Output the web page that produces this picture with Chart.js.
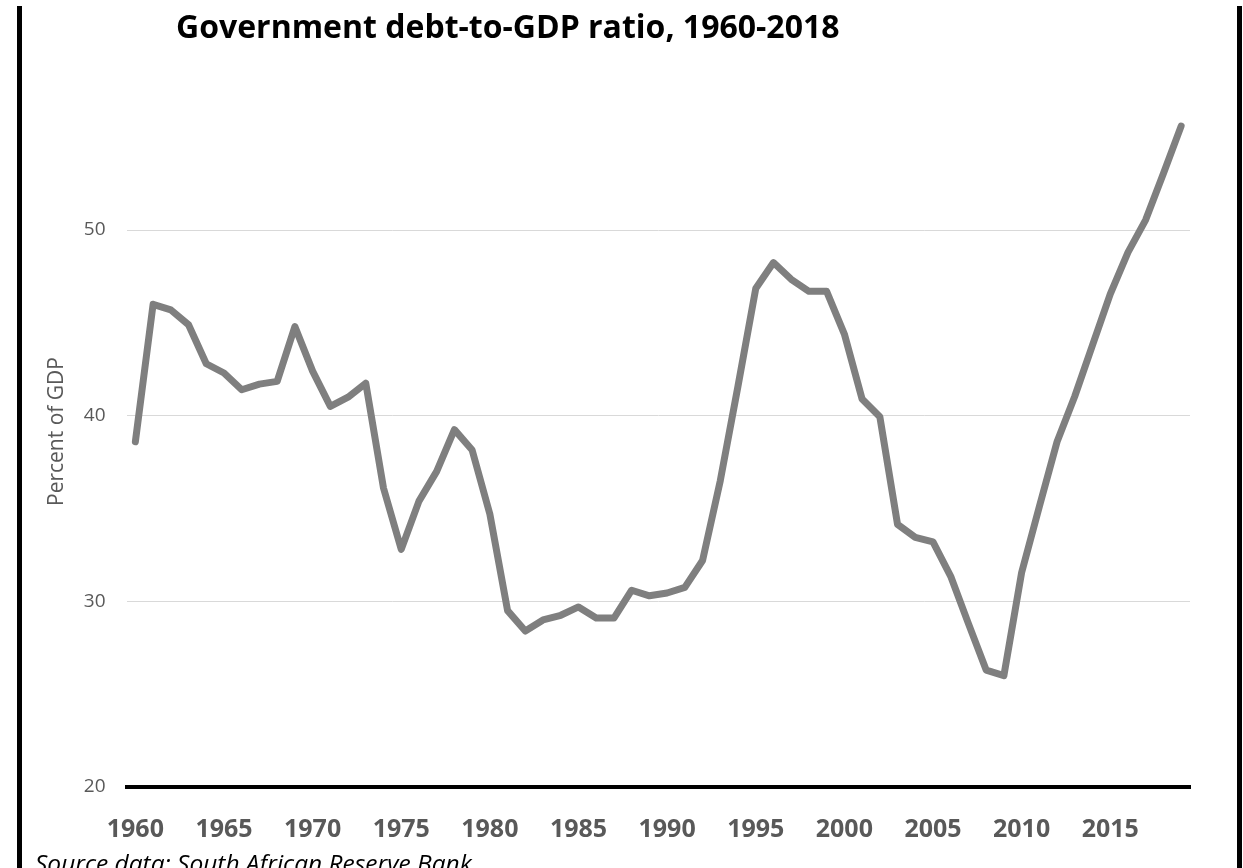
<!DOCTYPE html>
<html>
<head>
<meta charset="utf-8">
<script src="https://cdn.jsdelivr.net/npm/chart.js@4"></script>
<style>
  html, body { margin: 0; padding: 0; background: #fff; overflow: hidden; }
  #wrap { position: absolute; left: 0; top: 0; width: 1243px; height: 868px; }
  .edge { position: absolute; top: 6px; bottom: 0; width: 5px; background: #000; }
  #title {
    position: absolute; left: 176px; top: 10px;
    font: bold 32px "Open Sans", sans-serif; line-height: 32px;
    color: #000; white-space: nowrap;
  }
  #source {
    position: absolute; left: 35px; top: 851px;
    font: italic 24.5px "Open Sans", sans-serif; line-height: 24.5px;
    color: #000; white-space: nowrap;
  }
</style>
</head>
<body>
<div id="wrap">
  <canvas id="debtChart"></canvas>
</div>
<div class="edge" style="left:17px"></div>
<div class="edge" style="left:1237px"></div>
<div id="title">Government debt-to-GDP ratio, 1960-2018</div>
<div id="source">Source data: South African Reserve Bank</div>

<script>
  // years on the category axis
  const years = [
    1960, 1961, 1962, 1963, 1964, 1965, 1966, 1967, 1968, 1969,
    1970, 1971, 1972, 1973, 1974, 1975, 1976, 1977, 1978, 1979,
    1980, 1981, 1982, 1983, 1984, 1985, 1986, 1987, 1988, 1989,
    1990, 1991, 1992, 1993, 1994, 1995, 1996, 1997, 1998, 1999,
    2000, 2001, 2002, 2003, 2004, 2005, 2006, 2007, 2008, 2009,
    2010, 2011, 2012, 2013, 2014, 2015, 2016, 2017, 2018, 2019
  ];

  // debt as percent of GDP
  const debtRatio = [
    38.6, 46.0, 45.7, 44.9, 42.8, 42.3, 41.4, 41.7, 41.85, 44.8,
    42.4, 40.5, 41.0, 41.75, 36.1, 32.8, 35.4, 37.0, 39.25, 38.15,
    34.7, 29.5, 28.4, 29.0, 29.25, 29.7, 29.1, 29.1, 30.6, 30.3,
    30.45, 30.75, 32.2, 36.5, 41.6, 46.85, 48.25, 47.35, 46.7, 46.7,
    44.4, 40.9, 39.95, 34.15, 33.45, 33.2, 31.35, 28.8, 26.3, 26.0,
    31.55, 35.1, 38.6, 41.05, 43.8, 46.55, 48.8, 50.55, 53.05, 55.6
  ];

  // labelled years on the x axis
  const xTickYears = [1960, 1965, 1970, 1975, 1980, 1985, 1990, 1995, 2000, 2005, 2010, 2015];

  // y axis ticks
  const yTickValues = [20, 30, 40, 50];

  const grey = '#595959';

  window.onload = function () {

    let ctx = document.getElementById('debtChart').getContext('2d');

    new Chart(ctx, {
      type: 'line',
      data: {
        labels: years,
        datasets: [{
          data: debtRatio,
          borderColor: '#7f7f7f',
          borderWidth: 7,
          borderCapStyle: 'round',
          borderJoinStyle: 'round',
          pointRadius: 0,
          pointHoverRadius: 0,
          tension: 0,
          fill: false,
        }],
      },
      options: {
        responsive: true,
        maintainAspectRatio: false,
        animation: false,
        layout: {
          padding: { top: 76, right: 53, bottom: 0, left: 0 }
        },
        plugins: {
          legend: { display: false },
          tooltip: { enabled: false },
        },
        scales: {
          x: {
            offset: true,
            grid: { display: false, drawTicks: false },
            border: { display: true, color: '#000', width: 4 },
            ticks: {
              autoSkip: false,
              maxRotation: 0,
              minRotation: 0,
              padding: 28,
              color: grey,
              font: { family: 'Open Sans', size: 25, weight: 'bold' },
              callback: function (value, index) {
                let y = years[index];
                return xTickYears.includes(y) ? String(y) : '';
              }
            },
            afterFit: function (scale) {
              scale.height = 81;
            }
          },
          y: {
            min: 20,
            max: 58.3,
            grid: { color: '#d9d9d9', lineWidth: 1, drawTicks: false },
            border: { display: false },
            ticks: {
              padding: 21,
              color: grey,
              font: { family: 'Open Sans', size: 19 },
            },
            afterBuildTicks: function (scale) {
              scale.ticks = yTickValues.map(function (v) { return { value: v }; });
            },
            title: {
              display: true,
              text: 'Percent of GDP',
              color: grey,
              font: { family: 'Open Sans', size: 21 },
              padding: { top: 44, bottom: 0 },
            },
            afterFit: function (scale) {
              scale.width = 126.5;
            }
          }
        }
      }
    });
  }
</script>
</body>
</html>
